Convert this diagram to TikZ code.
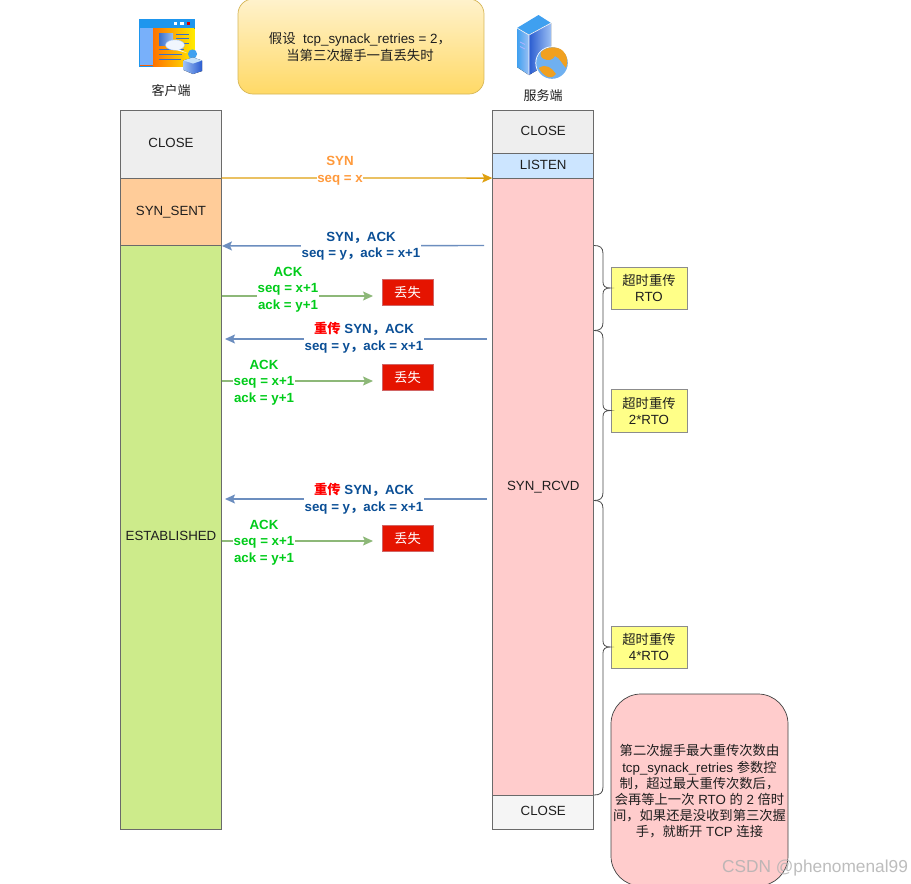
\documentclass[tikz,border=0pt]{standalone}
\usepackage{fontspec}
\setmainfont{Liberation Sans}
\newfontfamily\cjk{Noto Sans CJK SC}
\usetikzlibrary{arrows.meta,positioning,calc}
\newcommand{\zh}[1]{{\cjk #1}}
\definecolor{ink}{HTML}{1E1E1E}
\definecolor{edgegray}{HTML}{6A6A6A}
\definecolor{synorange}{HTML}{FF9A3C}
\definecolor{synline}{HTML}{DFA010}
\definecolor{navy}{HTML}{0B4F96}
\definecolor{blueline}{HTML}{6C8EBF}
\definecolor{greenline}{HTML}{8DB878}
\definecolor{ackgreen}{HTML}{00CC1A}
\definecolor{closefill}{HTML}{EEEEEE}
\definecolor{closefillb}{HTML}{F5F5F5}
\definecolor{sentfill}{HTML}{FFCC99}
\definecolor{estfill}{HTML}{CDEB8B}
\definecolor{listenfill}{HTML}{CCE5FF}
\definecolor{rcvdfill}{HTML}{FFCCCC}
\definecolor{lostfill}{HTML}{E51400}
\definecolor{lostedge}{HTML}{B20000}
\definecolor{rtofill}{HTML}{FFFF88}
\definecolor{notetop}{HTML}{FFF2CC}
\definecolor{notebot}{HTML}{FFD966}
\definecolor{noteedge}{HTML}{D6B656}
\definecolor{winblue}{HTML}{1E96EE}
\definecolor{panelblue}{HTML}{78B0FA}
\definecolor{linesblue}{HTML}{3C6FC8}
\definecolor{skyblue}{HTML}{3FA0F0}
\definecolor{deepblue}{HTML}{2A5CD0}
\definecolor{paleblue}{HTML}{9CC0F4}
\definecolor{landorange}{HTML}{F0A020}
\definecolor{seablue}{HTML}{6FB0F0}
\tikzset{
  base/.style={font=\fontsize{13.3}{16}\selectfont,text=ink,align=center,inner sep=0pt},
  state/.style={base,draw=edgegray,line width=0.9pt,rectangle,minimum width=101pt,text height=9.6pt,text depth=2.8pt},
  lost/.style={base,text=white,fill=lostfill,draw=lostedge!60,line width=0.6pt,minimum width=51pt,minimum height=26pt},
  rto/.style={base,fill=rtofill,draw=gray!90,line width=0.9pt,minimum width=76pt,minimum height=42pt},
  lbl/.style={font=\bfseries\fontsize{13.3}{16.5}\selectfont,inner sep=0.5pt,align=center,fill=white},
  synarrow/.style={draw=synline,line width=1.4pt,-{Stealth[length=10pt,width=9pt,inset=2pt]}},
  backarrow/.style={draw=blueline,line width=1.4pt,-{Stealth[length=10pt,width=9pt,inset=2pt]}},
  ackarrow/.style={draw=greenline,line width=1.4pt,-{Stealth[length=10pt,width=9pt,inset=2pt]}},
  bracket/.style={draw=ink!80,line width=0.8pt}
}
\newcommand{\bracepath}[4]{% top, bottom, tip y, target node
  \draw[bracket] (594,#1) .. controls (600,#1) and (603,#1+2) .. (603,#1+8)
    -- (603,#3-6) .. controls (603,#3-2) and (605,#3) .. (#4.west)
    .. controls (605,#3) and (603,#3+2) .. (603,#3+6)
    -- (603,#2-8) .. controls (603,#2-2) and (600,#2) .. (594,#2);
}
\begin{document}
\begin{tikzpicture}[x=1pt,y=-1pt]
\useasboundingbox (0,0) rectangle (911,884);
\clip (0,0) rectangle (911,884);
\fill[white] (0,0) rectangle (911,884);

% client icon
\fill[winblue] (139,19) rectangle (195,67);
\fill[panelblue] (140,28) rectangle (153,66);
\fill[left color=orange!90!red,right color=yellow!85!orange] (153,28) rectangle (194.5,66);
\fill[orange!75!red] (140,64.5) rectangle (153,66);
\fill[white] (173.5,21.8) rectangle (177,25.2);
\fill[white] (180,21.8) rectangle (183.5,25.2);
\fill[red!85!black] (186.5,21.8) rectangle (190,25.2);
\fill[left color=linesblue,right color=paleblue] (159,33) rectangle (173,45);
\draw[linesblue,line width=0.8pt] (176,34)--(189,34) (176,38)--(189,38) (176,43)--(189,43) (159,49)--(184,49) (159,54)--(182,54) (159,59)--(181,59);
\fill[white!85!paleblue,draw=paleblue,line width=0.4pt] (175,45) ellipse (9.5 and 5.2);
\fill[white!85!paleblue] (176,48) -- (187,53) -- (172,49) -- cycle;
\fill[skyblue] (192.5,54) circle (4.6);
\fill[left color=paleblue,right color=deepblue] (183.5,60.5) -- (193,57.5) -- (202,60.5) -- (202,71) -- (193,74) -- (183.5,70) -- cycle;
\fill[white!70!skyblue] (183.5,60.5) -- (193,57.5) -- (202,60.5) -- (193,63.5) -- cycle;

% server icon
\fill[skyblue] (517,28) -- (538.5,15) -- (551,23) -- (529,35) -- cycle;
\fill[left color=skyblue,right color=paleblue] (517,28) -- (529,35) -- (529,75) -- (517,67) -- cycle;
\fill[left color=deepblue,right color=paleblue] (529,35) -- (551,23) -- (551,62) -- (529,75) -- cycle;
\draw[white,line width=0.6pt] (517,28)--(529,35)--(551,23) (529,35)--(529,75);
\draw[white!70!blue,line width=0.7pt] (520,42)--(525,44.5) (520,46.5)--(525,49);
\fill[white] (552,63) circle (16.6);
\fill[seablue] (552,63) circle (15.8);
\fill[landorange] (541,52) .. controls (547,46) and (558,46) .. (563,51) .. controls (568,56) and (568,62) .. (566,68) .. controls (562,64) and (560,58) .. (555,56) .. controls (553,60) and (548,61) .. (544,59) .. controls (541,58) and (540,55) .. (541,52) -- cycle;
\fill[landorange] (539,68) .. controls (546,63) and (552,68) .. (556,74) .. controls (553,78) and (549,78) .. (546,76) .. controls (543,74) and (540,71) .. (539,68) -- cycle;

\node[base,font=\fontsize{13}{16}\selectfont] (clientlbl) at (171,91) {\zh{客户端}};
\node[base,font=\fontsize{13}{16}\selectfont] (serverlbl) at (543,96) {\zh{服务端}};

% note on top
\node[base,rectangle,rounded corners=15pt,draw=noteedge,line width=0.7pt,top color=notetop,bottom color=notebot,minimum width=246pt,minimum height=95pt] (note) at (361,46.5) {};
\node[base,font=\fontsize{13.4}{17.5}\selectfont] (notetext) at (360,47) {\zh{假设}\ \ tcp\_synack\_retries = 2\zh{，}\\\zh{当第三次握手一直丢失时}};

% state columns
\node[state,fill=closefill,minimum height=68pt] (cclose) at (171,144.5) {CLOSE};
\node[state,fill=sentfill,minimum height=67pt] (csent) at (171,212) {SYN\_SENT};
\node[state,fill=estfill,minimum height=584pt] (estab) at (171,537.5) {ESTABLISHED};
\node[state,fill=closefill,minimum height=42.5pt] (sclose) at (543.25,131.75) {CLOSE};
\node[state,fill=listenfill,minimum height=25.5pt] (listen) at (543.25,165.75) {LISTEN};
\node[state,fill=rcvdfill,minimum height=617pt] (rcvd) at (543.25,487) {SYN\_RCVD};
\node[state,fill=closefillb,minimum height=34pt] (sclose2) at (543.25,812.5) {CLOSE};

% lost boxes
\node[lost] (lost1) at (407.5,292) {\zh{丢失}};
\node[lost] (lost2) at (407.5,377) {\zh{丢失}};
\node[lost] (lost3) at (407.5,538) {\zh{丢失}};

% free ends of connectors
\coordinate (synstart) at (221.5,178);
\coordinate (b1s) at (484,245.5);
\coordinate (b2s) at (487,339);
\coordinate (b3s) at (487,499);
\coordinate (b2e) at (225,339);
\coordinate (b3e) at (225,499);
\coordinate (g1s) at (222,296);
\coordinate (g2s) at (222,381);
\coordinate (g3s) at (222,541);
\coordinate (g1e) at (373,296);
\coordinate (g2e) at (373,381);
\coordinate (g3e) at (373,541);

% connectors
\draw[synarrow] (synstart) -- (rcvd.north west);
\draw[backarrow] (b1s) -- (csent.south east);
\draw[backarrow] (b2s) -- (b2e);
\draw[backarrow] (b3s) -- (b3e);
\draw[ackarrow] (g1s) -- (g1e);
\draw[ackarrow] (g2s) -- (g2e);
\draw[ackarrow] (g3s) -- (g3e);

% connector labels
\node[lbl,text=synorange] (l1) at (340,170.5) {SYN\\seq = x};
\node[lbl,text=navy] (l2) at (361,246) {SYN\zh{，}ACK\\seq = y\zh{，}ack = x+1};
\node[lbl,text=ackgreen] (l3) at (288,289.5) {ACK\\seq = x+1\\ack = y+1};
\node[lbl,text=navy] (l4) at (364,337.5) {\textcolor{red}{\zh{重传}} SYN\zh{，}ACK\\seq = y\zh{，}ack = x+1};
\node[lbl,text=ackgreen] (l5) at (264,382.5) {ACK\\seq = x+1\\ack = y+1};
\node[lbl,text=navy] (l6) at (364,498.5) {\textcolor{red}{\zh{重传}} SYN\zh{，}ACK\\seq = y\zh{，}ack = x+1};
\node[lbl,text=ackgreen] (l7) at (264,542.5) {ACK\\seq = x+1\\ack = y+1};

% timeout boxes
\node[rto] (r1) at (649,288) {\zh{超时重传}\\RTO};
\node[rto,minimum height=43pt] (r2) at (649,410.5) {\zh{超时重传}\\2*RTO};
\node[rto] (r3) at (649,647) {\zh{超时重传}\\4*RTO};

\bracepath{245.5}{330.5}{288}{r1}
\bracepath{330.5}{500.5}{410.5}{r2}
\bracepath{500.5}{795}{647}{r3}

% explanation
\node[base,fill=rcvdfill,draw=ink!85,line width=0.7pt,rectangle,rounded corners=30pt,minimum width=177pt,minimum height=192pt] (expl) at (699.5,790) {};
\node[base,font=\fontsize{13.3}{16.2}\selectfont] (expltext) at (699.5,791.5) {\zh{第二次握手最大重传次数由}\\tcp\_synack\_retries \zh{参数控}\\\zh{制，超过最大重传次数后，}\\\zh{会再等上一次} RTO \zh{的} 2 \zh{倍时}\\\zh{间，如果还是没收到第三次握}\\\zh{手，就断开} TCP \zh{连接}};

% watermark
\node[inner sep=0pt,text=gray!60,opacity=0.85,font=\fontsize{17.3}{20}\selectfont] (wm) at (815,868) {CSDN @phenomenal99};
\end{tikzpicture}
\end{document}
